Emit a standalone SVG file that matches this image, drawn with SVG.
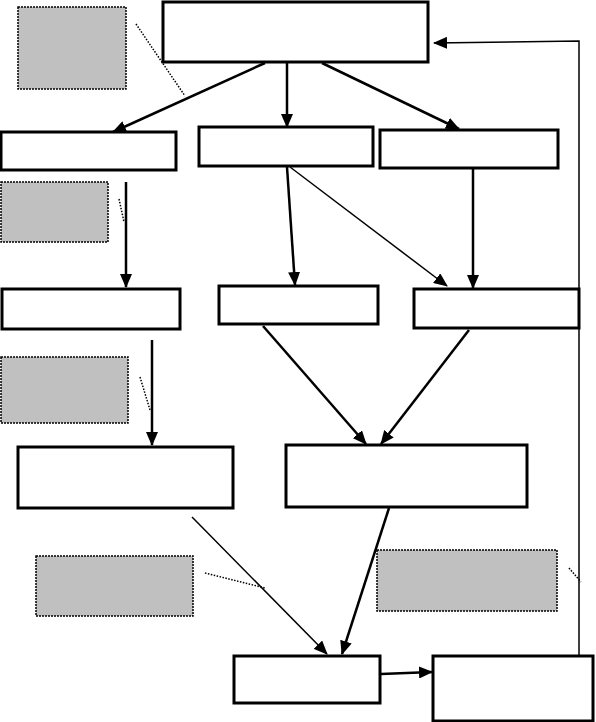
<svg xmlns="http://www.w3.org/2000/svg" width="596" height="722" viewBox="0 0 596 722">
<style>
.box{fill:#fff;stroke:#000;stroke-width:3}
.note{fill:#c0c0c0;stroke:#000;stroke-width:1.5;stroke-dasharray:2 1}
.thick{fill:none;stroke:#000;stroke-width:2.5}
.thin{fill:none;stroke:#000;stroke-width:1.5}
.dot{fill:none;stroke:#000;stroke-width:1.5;stroke-dasharray:1.5 1.5}
</style>
<defs>
<marker id="ah" markerUnits="userSpaceOnUse" markerWidth="14" markerHeight="12" refX="13" refY="6" orient="auto">
<path d="M0,0 L14,6 L0,12 z" fill="#000"/>
</marker>
</defs>
<rect x="0" y="0" width="596" height="722" fill="#fff"/>
<g id="notes">
<rect id="note1" class="note" x="18" y="7" width="108" height="82"/>
<rect id="note2" class="note" x="1" y="182" width="107" height="60"/>
<rect id="note3" class="note" x="1" y="357" width="127" height="66"/>
<rect id="note4" class="note" x="36" y="556" width="157" height="60"/>
<rect id="note5" class="note" x="377" y="550" width="180" height="61"/>
</g>
<g id="top"><rect class="box" x="163" y="2" width="265" height="60"/></g>
<g id="boxA"><rect class="box" x="1" y="132" width="175" height="38"/></g>
<g id="boxB"><rect class="box" x="199" y="127" width="174" height="39"/></g>
<g id="boxC"><rect class="box" x="380" y="130" width="178" height="38"/></g>
<g id="boxD"><rect class="box" x="2" y="289" width="178" height="40"/></g>
<g id="boxE"><rect class="box" x="219" y="286" width="159" height="38"/></g>
<g id="boxF"><rect class="box" x="414" y="289" width="165" height="39"/></g>
<g id="boxG"><rect class="box" x="18" y="447" width="215" height="61"/></g>
<g id="boxH"><rect class="box" x="286" y="445" width="241" height="62"/></g>
<g id="boxI"><rect class="box" x="234" y="656" width="146" height="47"/></g>
<g id="boxJ"><rect class="box" x="433" y="656" width="160" height="65"/></g>
<g id="connectors">
<line class="thick" x1="265" y1="63" x2="113" y2="132" marker-end="url(#ah)"/>
<line class="thick" x1="287" y1="63" x2="287" y2="127" marker-end="url(#ah)"/>
<line class="thick" x1="322" y1="63" x2="459" y2="129" marker-end="url(#ah)"/>
<line class="thick" x1="287" y1="167" x2="295" y2="285" marker-end="url(#ah)"/>
<line class="thin" x1="290" y1="167" x2="447" y2="286" marker-end="url(#ah)"/>
<line class="thick" x1="473" y1="169" x2="473" y2="288" marker-end="url(#ah)"/>
<line class="thick" x1="126" y1="182" x2="126" y2="287" marker-end="url(#ah)"/>
<line class="thick" x1="152" y1="340" x2="152" y2="445" marker-end="url(#ah)"/>
<line class="thick" x1="263" y1="326" x2="366" y2="444" marker-end="url(#ah)"/>
<line class="thick" x1="469" y1="330" x2="381" y2="444" marker-end="url(#ah)"/>
<line class="thin" x1="192" y1="517" x2="327" y2="654" marker-end="url(#ah)"/>
<line class="thick" x1="389" y1="508" x2="342" y2="654" marker-end="url(#ah)"/>
<line class="thick" x1="381" y1="674" x2="432" y2="672" marker-end="url(#ah)"/>
<polyline class="thin" points="579,656 579,41 434,43" marker-end="url(#ah)"/>
<line class="dot" x1="136" y1="24" x2="185" y2="96"/>
<line class="dot" x1="119" y1="199" x2="124" y2="222"/>
<line class="dot" x1="140" y1="377" x2="150" y2="410"/>
<line class="dot" x1="205" y1="573" x2="265" y2="588"/>
<line class="dot" x1="569" y1="568" x2="581" y2="582"/>
</g>
</svg>
